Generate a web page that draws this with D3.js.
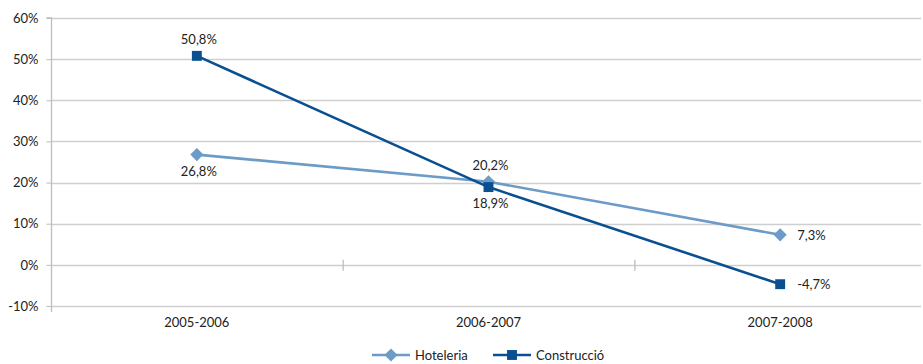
<!DOCTYPE html>
<html>
<head>
<meta charset="utf-8">
<script src="https://cdn.jsdelivr.net/npm/d3@7"></script>
<style>
  body { margin: 0; background: #fff; }
  svg text { font-family: Lato, "Open Sans", sans-serif; fill: #222; }
</style>
</head>
<body>
<svg id="plot" width="923" height="364"></svg>
<script>
"use strict";

const categories = ["2005-2006", "2006-2007", "2007-2008"];
const hoteleria = [26.8, 20.2, 7.3];
const construccio = [50.8, 18.9, -4.7];
const yTicks = [-10, 0, 10, 20, 30, 40, 50, 60];

const series = [
  { name: "Hoteleria", values: hoteleria, color: "#6b9bc6", shape: "diamond",
    labelPos: ["below", "above", "right"] },
  { name: "Construcció", values: construccio, color: "#0a4f92", shape: "square",
    labelPos: ["above", "below", "right"] }
];

const svg = d3.select("svg#plot");
const plotLeft = 51, plotRight = 926, plotTop = 18, plotBottom = 306;

const x = d3.scaleBand().domain(categories).range([plotLeft, plotRight]);
const y = d3.scaleLinear().domain([-10, 60]).range([plotBottom, plotTop]);
// hyphen, not the unicode minus d3.format gives
const fmt = (v) => d3.format(".1f")(v).replace("\u2212", "-").replace(".", ",") + "%";

// gridlines
svg.append("g")
  .selectAll("line")
  .data(yTicks)
  .join("line")
  .attr("x1", plotLeft).attr("x2", 921)
  .attr("y1", (d) => Math.round(y(d)) + 0.5)
  .attr("y2", (d) => Math.round(y(d)) + 0.5)
  .attr("stroke", "#cfcfcf").attr("stroke-width", 1.3);

// y axis
const yAxis = svg.append("g")
  .attr("transform", `translate(${plotLeft + 0.5},0)`)
  .call(d3.axisLeft(y).tickValues(yTicks).tickSize(5).tickPadding(8)
    .tickFormat((d) => d + "%"));
yAxis.select(".domain").attr("stroke", "#bdbdbd").attr("stroke-width", 1.3)
  .attr("d", `M-5,${y(60)}H0V${plotBottom + 6}`);
yAxis.selectAll(".tick line").attr("stroke", "#bdbdbd");
yAxis.selectAll("text").style("font-size", "13px").attr("fill", "#222");

// category axis across the 0% line
svg.append("g")
  .selectAll("line")
  .data(categories.slice(1))
  .join("line")
  .attr("x1", (d) => x(d) + 0.5).attr("x2", (d) => x(d) + 0.5)
  .attr("y1", y(0) - 5).attr("y2", y(0) + 6)
  .attr("stroke", "#bdbdbd").attr("stroke-width", 1.3);

svg.append("g")
  .selectAll("text")
  .data(categories)
  .join("text")
  .attr("x", (d) => x(d) + x.bandwidth() / 2)
  .attr("y", plotBottom + 21)
  .attr("text-anchor", "middle")
  .style("font-size", "13px")
  .text((d) => d);

const cx = (i) => x(categories[i]) + x.bandwidth() / 2;
const line = d3.line().x((d, i) => cx(i)).y((d) => y(d));

const diamond = d3.symbol().type(d3.symbolDiamond2).size(110);
const square = d3.symbol().type(d3.symbolSquare2).size(125);

series.forEach((s) => {
  const g = svg.append("g").attr("class", "series");
  g.append("path")
    .datum(s.values)
    .attr("d", line)
    .attr("fill", "none")
    .attr("stroke", s.color)
    .attr("stroke-width", 2.6);

  g.selectAll(".marker")
    .data(s.values)
    .join("path")
    .attr("class", "marker")
    .attr("transform", (d, i) => `translate(${cx(i)},${y(d)})`)
    .attr("d", s.shape === "diamond" ? diamond : square)
    .attr("fill", s.color);

  g.selectAll(".lbl")
    .data(s.values)
    .join("text")
    .attr("class", "lbl")
    .style("font-size", "13px")
    .attr("text-anchor", (d, i) => (s.labelPos[i] === "right" ? "start" : "middle"))
    .attr("x", (d, i) => (s.labelPos[i] === "right" ? cx(i) + 17 : cx(i) + 2))
    .attr("y", (d, i) => {
      const p = s.labelPos[i];
      if (p === "above") return y(d) - 12;
      if (p === "below") return y(d) + 21;
      return y(d) + 5;
    })
    .text((d) => fmt(d));
});

// legend
const legend = svg.append("g").attr("transform", "translate(372,355)");
const legX = [0, 121];
series.forEach((s, i) => {
  const lg = legend.append("g").attr("transform", `translate(${legX[i]},0)`);
  lg.append("line").attr("x1", 0).attr("x2", 38).attr("y1", 0).attr("y2", 0)
    .attr("stroke", s.color).attr("stroke-width", 2.6);
  lg.append("path")
    .attr("transform", "translate(19,0)")
    .attr("d", s.shape === "diamond" ? diamond : square)
    .attr("fill", s.color);
  lg.append("text").attr("x", 43).attr("y", 4.5)
    .style("font-size", "13px").attr("fill", "#333").text(s.name);
});
</script>
</body>
</html>
